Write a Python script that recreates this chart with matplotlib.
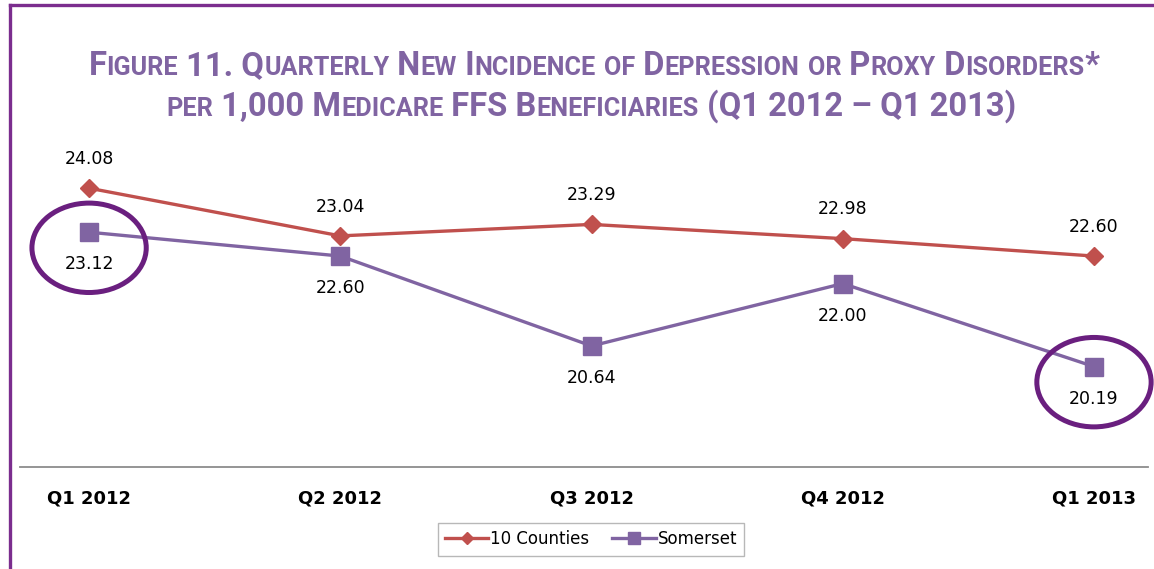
import matplotlib
matplotlib.use('Agg')
import matplotlib.pyplot as plt
from matplotlib.patches import Ellipse
from matplotlib.lines import Line2D

# ---- data ----
quarters = ['Q1 2012', 'Q2 2012', 'Q3 2012', 'Q4 2012', 'Q1 2013']
ten_counties = [24.08, 23.04, 23.29, 22.98, 22.60]
somerset = [23.12, 22.60, 20.64, 22.00, 20.19]
series_names = ['10 Counties', 'Somerset']
highlight_idx = [0, 4]
title_lines = ['Figure 11. Quarterly New Incidence of Depression or Proxy Disorders*',
               'per 1,000 Medicare FFS Beneficiaries (Q1 2012 \u2013 Q1 2013)']

RED = '#c0504d'
PURPLE = '#8064a2'
CIRCLE = '#6a1f7f'
BORDER = '#7b2d8e'
TITLE_C = '#8064a2'

W, H = 1154, 569
fig = plt.figure(figsize=(W / 100, H / 100), dpi=100)
fig.patch.set_facecolor('white')

# frame lines (left & top)
fig.add_artist(Line2D([10 / W, 10 / W], [0, 1 - 5 / H], color=BORDER, lw=2.4,
                      transform=fig.transFigure))
fig.add_artist(Line2D([10 / W, 1], [1 - 5 / H, 1 - 5 / H], color=BORDER, lw=2.4,
                      transform=fig.transFigure))

ax = fig.add_axes([20 / W, 1 - 467 / H, (1148 - 20) / W, (467 - 146) / H])
x = list(range(len(quarters)))
ax.plot(x, ten_counties, color=RED, lw=2.4, marker='D', ms=9, zorder=3)
ax.plot(x, somerset, color=PURPLE, lw=2.4, marker='s', ms=12.5, zorder=3)
ax.set_xlim(-0.275, 4.215)
ax.set_ylim(18, 25)
for s in ['top', 'left', 'right']:
    ax.spines[s].set_visible(False)
ax.spines['bottom'].set_color('#8c8c8c')
ax.spines['bottom'].set_linewidth(1.3)
ax.set_yticks([])
ax.set_xticks(x)
ax.set_xticklabels(quarters, fontsize=13, fontweight='bold')
ax.tick_params(axis='x', length=0, pad=16)

for xi, v in zip(x, ten_counties):
    ax.annotate(f'{v:.2f}', (xi, v), xytext=(0, 21), textcoords='offset points',
                ha='center', va='center', fontsize=12.5, color='black')
for xi, v in zip(x, somerset):
    ax.annotate(f'{v:.2f}', (xi, v), xytext=(0, -23), textcoords='offset points',
                ha='center', va='center', fontsize=12.5, color='black')

for i in highlight_idx:
    e = Ellipse((x[i], somerset[i] - 0.34), width=0.455, height=1.95,
                fill=False, edgecolor=CIRCLE, lw=3.6, clip_on=False, zorder=4)
    ax.add_patch(e)

# legend
handles = [Line2D([], [], color=RED, lw=2.4, marker='D', ms=6),
           Line2D([], [], color=PURPLE, lw=2.4, marker='s', ms=8)]
leg = fig.legend(handles, series_names, loc='center',
                 bbox_to_anchor=(591 / W, 1 - 539 / H), ncol=2, fontsize=12,
                 frameon=True, fancybox=False, handlelength=2.6, handletextpad=0.1,
                 columnspacing=1.4, borderpad=0.45)
leg.get_frame().set_edgecolor('#a6a6a6')
leg.get_frame().set_linewidth(1.0)

# small-caps title
fig.canvas.draw()
renderer = fig.canvas.get_renderer()
FAM = ['Roboto', 'DejaVu Sans']


def runs_of(s):
    out = []
    for ch in s:
        small = ch.islower()
        c = ch.upper()
        if out and out[-1][1] == small:
            out[-1][0] += c
        else:
            out.append([c, small])
    return out


def measure(txt, size):
    t = fig.text(0, 0, '|' + txt + '|', fontsize=size, fontweight='bold', family=FAM)
    w1 = t.get_window_extent(renderer).width
    t.remove()
    t = fig.text(0, 0, '||', fontsize=size, fontweight='bold', family=FAM)
    w2 = t.get_window_extent(renderer).width
    t.remove()
    return w1 - w2


def line_width(s, big, small):
    return sum(measure(r, small if sm else big) for r, sm in runs_of(s))


def smallcaps(s, ycenter_px, big, small, xcenter_px):
    runs = runs_of(s)
    widths = [measure(r, small if sm else big) for r, sm in runs]
    total = sum(widths)
    xpos = xcenter_px - total / 2
    base = H - ycenter_px - 0.36 * big * 100 / 72
    for (r, sm), w in zip(runs, widths):
        fig.text(xpos / W, base / H, r, fontsize=small if sm else big,
                 fontweight='bold', family=FAM, color=TITLE_C, va='baseline', ha='left')
        xpos += w


BIG, SMALL = 22.0, 17.0
w0 = line_width(title_lines[0], BIG, SMALL)
k = (1100 - 88) / w0
BIG *= k
SMALL *= k
smallcaps(title_lines[0], 63, BIG, SMALL, (88 + 1100) / 2)
smallcaps(title_lines[1], 104, BIG, SMALL, (177 + 1005) / 2)

fig.savefig('out.png', dpi=100)
